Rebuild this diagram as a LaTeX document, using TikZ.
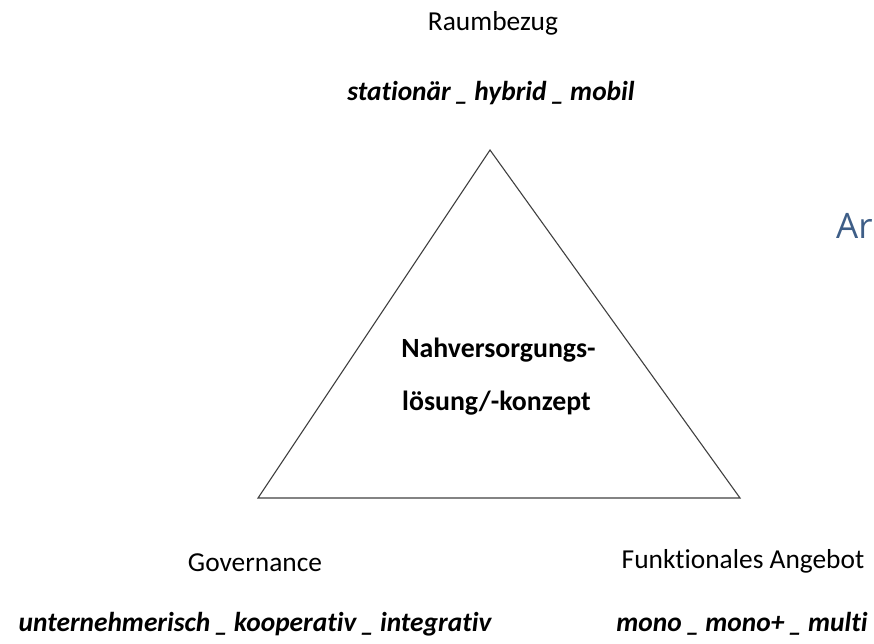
\documentclass[tikz,border=0pt]{standalone}
\usepackage{fontspec}
\setmainfont{Carlito}[Ligatures=NoCommon]
\newfontfamily\arfont{Open Sans}
\definecolor{arblue}{HTML}{3E5E87}
\newcommand{\usep}{\kern4.5pt\_\hspace{5.5pt}}
\tikzset{
  lbl/.style={font=\fontsize{27.4}{30}\selectfont, inner sep=0pt, anchor=base},
  opts/.style={font=\fontsize{27.4}{30}\selectfont\bfseries\itshape, inner sep=0pt, anchor=base},
  centre/.style={font=\fontsize{27.8}{30}\selectfont\bfseries, inner sep=0pt, anchor=base},
  tri/.style={draw=black!75, line width=1.1pt, line join=miter}
}
\begin{document}
\begin{tikzpicture}[x=1pt,y=-1pt]
\useasboundingbox (0,0) rectangle (874,644);
\coordinate (A) at (490,150);
\coordinate (B) at (258,498);
\coordinate (C) at (740,498);
\draw[tri] (A) -- (B) -- (C) -- cycle;
\node[lbl] (raum) at (493,31) {Raumbezug};
\node[opts] (raumopt) at (491,101) {stationär\usep hybrid\usep mobil};
\node[centre] (mid1) at (498.5,357) {Nahversorgungs-};
\node[centre] (mid2) at (496.5,410) {lösung/-konzept};
\node[lbl] (gov) at (255,571) {Governance};
\node[opts] (govopt) at (255,631) {unternehmerisch\usep kooperativ\usep integrativ};
\node[lbl] (funk) at (743,568) {Funktionales Angebot};
\node[opts] (funkopt) at (742,631) {mono\usep mono+\usep multi};
\begin{scope}
\clip (0,0) rectangle (874,644);
\node[font=\arfont\fontsize{35}{40}\selectfont, text=arblue, inner sep=0pt, anchor=base west] (ar) at (836,238) {Ar};
\end{scope}
\end{tikzpicture}
\end{document}
